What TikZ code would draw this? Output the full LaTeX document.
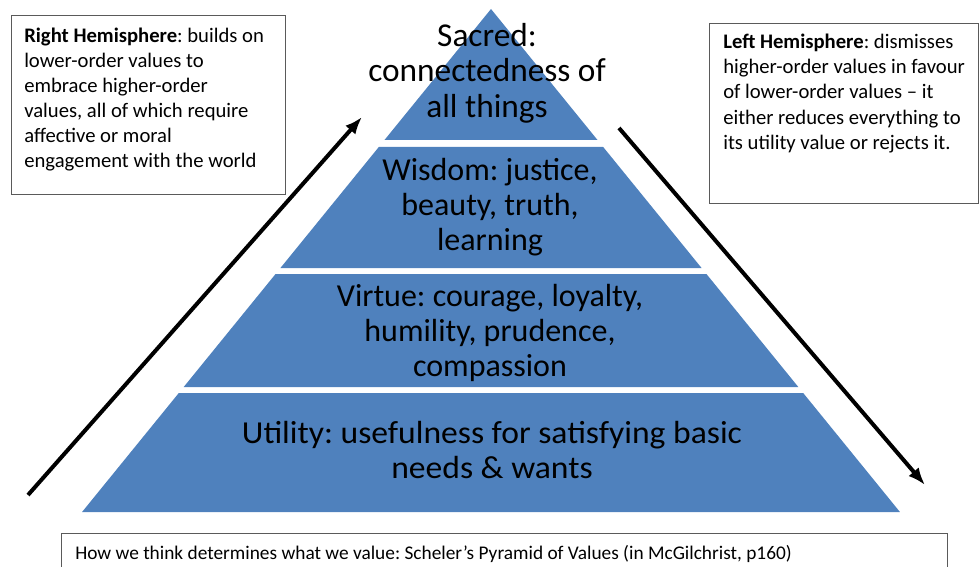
\documentclass[tikz,border=0pt]{standalone}
\usepackage{fontspec}
\setmainfont{Carlito}
\usepackage{tikz}
\usetikzlibrary{arrows.meta, positioning, calc}

\definecolor{tierblue}{RGB}{79,129,189}
\definecolor{boxgray}{RGB}{90,90,90}

\tikzset{
  tier/.style={fill=tierblue},
  tiertext/.style={align=center, font=\fontsize{24}{26.5}\selectfont, text=black},
  notebox/.style={draw=boxgray, line width=1pt, anchor=north west},
  notetext/.style={align=left, inner sep=0pt, anchor=north west,
    font=\fontsize{15.5}{18.75}\selectfont},
  flow/.style={line width=3pt, -{Latex[length=13pt,width=10pt]}}
}

\begin{document}
\frenchspacing
\begin{tikzpicture}[x=0.75pt, y=-0.75pt]
\useasboundingbox (0,0) rectangle (979,567);
% pyramid tiers, cut from one triangle
\foreach \ya/\yb in {9/140, 147/268, 274/387, 393/512} {
  \pgfmathsetmacro\wa{0.813*(\ya-9)}
  \pgfmathsetmacro\wb{0.813*(\yb-9)}
  \fill[tier] (491-\wa,\ya) -- (491+\wa,\ya) -- (491+\wb,\yb) -- (491-\wb,\yb) -- cycle;
}
\node[tiertext, font=\fontsize{25}{26.5}\selectfont] (sacred) at (487,73) {Sacred:\\connectedness of\\all things};
\node[tiertext] (wisdom) at (490,207) {Wisdom: justice,\\beauty, truth,\\learning};
\node[tiertext] (virtue) at (490,333) {Virtue: courage, loyalty,\\humility, prudence,\\compassion};
\node[tiertext, xscale=1.05] (utility) at (492,450) {Utility: usefulness for satisfying basic\\needs \& wants};

% hemisphere notes
\node[notebox, minimum width=205.5pt, minimum height=134pt] (right) at (11,15) {};
\node[notetext, below right=9.4pt and 9.75pt of right.north west]
  (righttext) {\textbf{Right Hemisphere}: builds on\\lower-order values to\\embrace higher-order\\values, all of which require\\affective or moral\\engagement with the world};
\node[notebox, minimum width=201.75pt, minimum height=135pt] (left) at (709,23) {};
\node[notetext, font=\fontsize{15.5}{19}\selectfont, below right=7.9pt and 10.5pt of left.north west]
  (lefttext) {\textbf{Left Hemisphere}: dismisses\\higher-order values in favour\\of lower-order values -- it\\either reduces everything to\\its utility value or rejects it.};
\node[notebox, minimum width=664.5pt, minimum height=40pt] (caption) at (61,533) {};
\node[notetext, font=\fontsize{14.5}{17}\selectfont, below right=9.4pt and 10.5pt of caption.north west]
  (captiontext) {How we think determines what we value: Scheler’s Pyramid of Values (in McGilchrist, p160)};

% up and down arrows
\coordinate (upfrom) at (28,495);
\coordinate (upto) at (362,117);
\coordinate (downfrom) at (619,128);
\coordinate (downto) at (925,485);
\draw[flow] (upfrom) -- (upto);
\draw[flow] (downfrom) -- (downto);
\end{tikzpicture}
\end{document}
